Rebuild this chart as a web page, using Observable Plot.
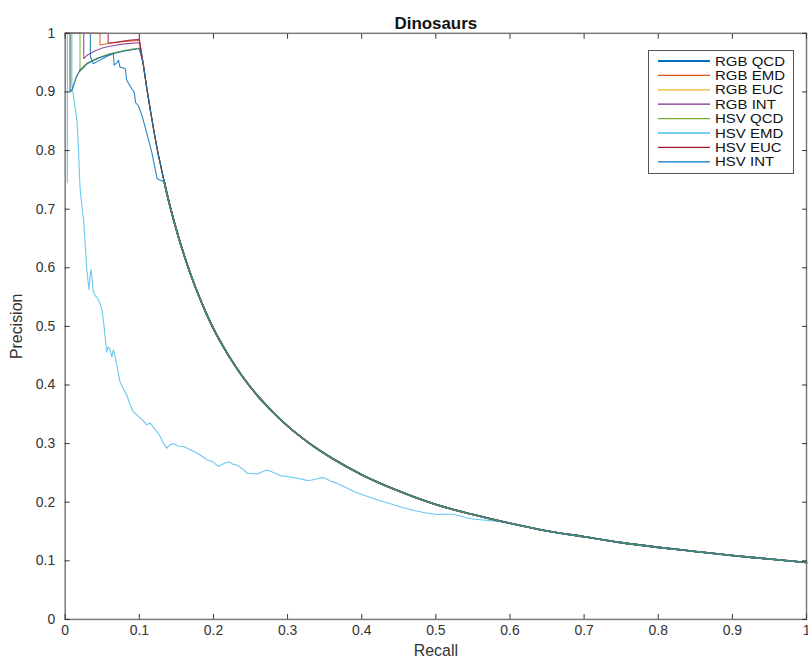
<!DOCTYPE html>
<html><head><meta charset="utf-8">
<script src="https://cdn.jsdelivr.net/npm/d3@7"></script>
<script src="https://cdn.jsdelivr.net/npm/@observablehq/plot@0.6"></script>
<style>
html,body{margin:0;padding:0;background:#fff;overflow:hidden;}
#wrap{position:relative;width:808px;height:666px;overflow:hidden;}
#wrap svg{display:block;}
#legend{position:absolute;left:648px;top:50px;}
</style></head><body><div id="wrap"></div>
<script>
// ---- data ----
const seriesNames = ["RGB QCD","RGB EMD","RGB EUC","RGB INT","HSV QCD","HSV EMD","HSV EUC","HSV INT"];
const seriesColors = ["#0072BD","#D95319","#EDB120","#7E2F8E","#77AC30","#4DBEEE","#A2142F","#0072BD"];
const xTicks = [0,0.1,0.2,0.3,0.4,0.5,0.6,0.7,0.8,0.9,1];
const yTicks = [0,0.1,0.2,0.3,0.4,0.5,0.6,0.7,0.8,0.9,1];

// shared tail (all curves converge)
const tailRecall    = [0.133,0.14,0.15,0.16,0.17,0.18,0.19,0.20,0.22,0.24,0.26,0.28,0.30,0.33,0.36,0.40,0.45,0.50,0.55,0.60,0.65,0.70,0.75,0.80,0.85,0.90,0.95,1.00];
const tailPrecision = [0.750,0.712,0.665,0.623,0.586,0.553,0.523,0.496,0.451,0.413,0.381,0.354,0.330,0.300,0.275,0.247,0.219,0.196,0.179,0.164,0.151,0.141,0.131,0.123,0.116,0.109,0.103,0.097];

// descent from recall 0.1 to the shared tail
const descentRecall    = [0.105,0.11,0.115,0.12,0.125];
const descentPrecision = [0.950,0.907,0.868,0.831,0.797];

const rgbQcdRecall    = [0,0.034,0.034,0.038,0.045,0.055,0.065,0.066,0.070,0.072,0.074,0.081,0.083,0.090,0.093,0.095,0.099,0.104,0.110,0.117,0.124,0.131];
const rgbQcdPrecision = [1,1,0.96,0.948,0.953,0.96,0.965,0.946,0.95,0.954,0.942,0.94,0.92,0.905,0.9,0.882,0.876,0.858,0.83,0.796,0.752,0.748];

const rgbEmdRecall    = [0,0.047,0.047,0.06,0.08,0.1];
const rgbEmdPrecision = [1,1,0.98,0.983,0.986,0.988];

const rgbEucRecall    = [0,0.0075,0.0075,0.01,0.012,0.015,0.02,0.03,0.04,0.05,0.06,0.08,0.1];
const rgbEucPrecision = [1,1,0.9,0.906,0.917,0.927,0.938,0.95,0.956,0.961,0.965,0.97,0.974];

const rgbIntRecall    = [0,0.025,0.025,0.03,0.04,0.05,0.06,0.08,0.1];
const rgbIntPrecision = [1,1,0.957,0.963,0.97,0.975,0.978,0.982,0.984];

const hsvQcdRecall    = [0,0.02,0.02,0.03,0.045,0.06,0.08,0.1];
const hsvQcdPrecision = [1,1,0.935,0.948,0.958,0.965,0.971,0.975];

const hsvEmdRecall    = [0.003,0.003,0.009,0.009,0.012,0.016,0.018,0.020,0.023,0.025,0.027,0.029,0.031,0.032,0.034,0.035,0.036,0.038,0.041,0.045,0.048,0.050,0.052,0.054,0.056,0.058,0.060,0.063,0.065,0.068,0.071,0.074,0.078,0.083,0.088,0.092,0.096,0.101,0.106,0.110,0.115,0.120,0.124,0.128,0.133,0.137,0.141,0.146,0.152,0.160,0.168,0.173,0.178,0.185,0.192,0.200,0.207,0.214,0.221,0.226,0.232,0.240,0.246,0.252,0.259,0.266,0.272,0.277,0.284,0.291,0.300,0.307,0.313,0.320,0.327,0.333,0.340,0.346,0.351,0.358,0.365,0.372,0.381,0.390,0.400,0.410,0.426,0.440,0.455,0.471,0.485,0.502,0.512,0.525,0.540,0.552,0.570,0.585,0.600];
const hsvEmdPrecision = [0.745,1,1,0.915,0.885,0.850,0.800,0.737,0.700,0.680,0.640,0.600,0.575,0.563,0.590,0.597,0.585,0.560,0.552,0.545,0.535,0.525,0.505,0.482,0.456,0.465,0.462,0.448,0.460,0.445,0.425,0.405,0.395,0.383,0.365,0.354,0.350,0.344,0.338,0.332,0.335,0.326,0.320,0.312,0.300,0.292,0.298,0.300,0.296,0.295,0.290,0.287,0.284,0.278,0.272,0.268,0.261,0.266,0.269,0.265,0.263,0.256,0.249,0.249,0.248,0.252,0.255,0.253,0.249,0.245,0.244,0.242,0.241,0.239,0.237,0.238,0.240,0.242,0.241,0.236,0.233,0.229,0.224,0.218,0.213,0.209,0.202,0.197,0.191,0.186,0.182,0.179,0.180,0.179,0.174,0.171,0.169,0.167,0.164];

const hsvEucRecall    = [0,0.058,0.058,0.07,0.085,0.1];
const hsvEucPrecision = [1,1,0.983,0.985,0.988,0.99];

const hsvIntRecall    = [0,0.0065,0.0065,0.01,0.015,0.02,0.03,0.045,0.06,0.08,0.1];
const hsvIntPrecision = [1,1,0.9,0.905,0.925,0.937,0.949,0.958,0.964,0.97,0.974];

// ---- assemble ----
const heads = [
  [rgbQcdRecall, rgbQcdPrecision, false, 0.133],
  [rgbEmdRecall, rgbEmdPrecision, true, 0.133],
  [rgbEucRecall, rgbEucPrecision, true, 0.133],
  [rgbIntRecall, rgbIntPrecision, true, 0.133],
  [hsvQcdRecall, hsvQcdPrecision, true, 0.133],
  [hsvEmdRecall, hsvEmdPrecision, false, 0.6],
  [hsvEucRecall, hsvEucPrecision, true, 0.133],
  [hsvIntRecall, hsvIntPrecision, true, 0.133]
];
const headRows = [], tailRows = [];
heads.forEach(([rs, ps, desc, start], i) => {
  const name = seriesNames[i];
  rs.forEach((r, j) => headRows.push({name, r, p: ps[j]}));
  if (desc) descentRecall.forEach((r, j) => headRows.push({name, r, p: descentPrecision[j]}));
  if (start < 0.2) headRows.push({name, r: tailRecall[0], p: tailPrecision[0]});
  tailRecall.forEach((r, j) => { if (r >= start - 1e-9) tailRows.push({name, r, p: tailPrecision[j]}); });
});
// overlapping lines blend: draw the green one on top, semi-transparent
const tailBase = tailRows.filter(d => d.name !== "HSV QCD");
const tailTop = tailRows.filter(d => d.name === "HSV QCD");

const W = 812, H = 666;
const fmt = d => `${d}`;
const axisStyle = {stroke: "#333", strokeWidth: 1, fill: "#333", fontSize: 14};
const chart = Plot.plot({
  width: W, height: H,
  marginLeft: 65, marginRight: W - 810, marginTop: 33, marginBottom: 44,
  style: {fontFamily: "'Liberation Sans', Arial, Helvetica, sans-serif", fontSize: "14px", color: "#333", background: "#fff", overflow: "visible"},
  x: {domain: [0, 1]},
  y: {domain: [0, 1]},
  color: {domain: seriesNames, range: seriesColors},
  marks: [
    Plot.line(headRows, {x: "r", y: "p", z: "name", stroke: "name", strokeWidth: 1.1, strokeOpacity: 0.85}),
    Plot.line(tailBase, {x: "r", y: "p", z: "name", stroke: "name", strokeWidth: 1.6, curve: "monotone-x"}),
    Plot.line(tailTop, {x: "r", y: "p", z: "name", stroke: "name", strokeWidth: 1.6, strokeOpacity: 0.5, curve: "monotone-x"}),
    Plot.frame({stroke: "#7a7a7a", strokeWidth: 1.5}),
    Plot.axisX(xTicks, {anchor: "bottom", tickSize: -5, tickPadding: 11, tickFormat: fmt, label: "Recall", labelAnchor: "center", labelArrow: "none", labelOffset: 37, ...axisStyle}),
    Plot.axisX(xTicks, {anchor: "top", tickSize: -5, tickFormat: () => "", label: null, ...axisStyle}),
    Plot.axisY(yTicks, {anchor: "left", tickSize: -5, tickPadding: 15, tickFormat: fmt, label: "Precision", labelAnchor: "center", labelArrow: "none", labelOffset: 55, ...axisStyle}),
    Plot.axisY(yTicks, {anchor: "right", tickSize: -5, tickFormat: () => "", label: null, ...axisStyle}),
    Plot.text(["Dinosaurs"], {frameAnchor: "top", dy: -16, fontWeight: "bold", fontSize: 17, fill: "#111"})
  ]
});
document.getElementById("wrap").appendChild(chart);
// enlarge axis titles
d3.select(chart).selectAll("g[aria-label='x-axis label'] text, g[aria-label='y-axis label'] text").attr("font-size", 16);

// ---- legend (inside plot, top-right) ----
const lg = d3.select("#wrap").append("svg").attr("id", "legend")
  .attr("width", 146).attr("height", 124)
  .style("font-family", "'Liberation Sans', Arial, Helvetica, sans-serif");
lg.append("rect").attr("x", 0.5).attr("y", 0.5).attr("width", 145).attr("height", 123)
  .attr("fill", "#fff").attr("stroke", "#555").attr("stroke-width", 1);
const item = lg.selectAll("g").data(seriesNames).join("g")
  .attr("transform", (d, i) => `translate(0,${11 + i * 14.4})`);
item.append("line").attr("x1", 10).attr("x2", 62).attr("y1", 0).attr("y2", 0)
  .attr("stroke", (d, i) => seriesColors[i]).attr("stroke-width", (d, i) => i === 0 ? 2 : 1.3);
item.append("text").attr("x", 0).attr("y", 0).attr("dy", "0.36em")
  .attr("font-size", 12.5).attr("fill", "#111").attr("transform", "translate(67,0) scale(1.2,1)").text(d => d);
</script></body></html>
